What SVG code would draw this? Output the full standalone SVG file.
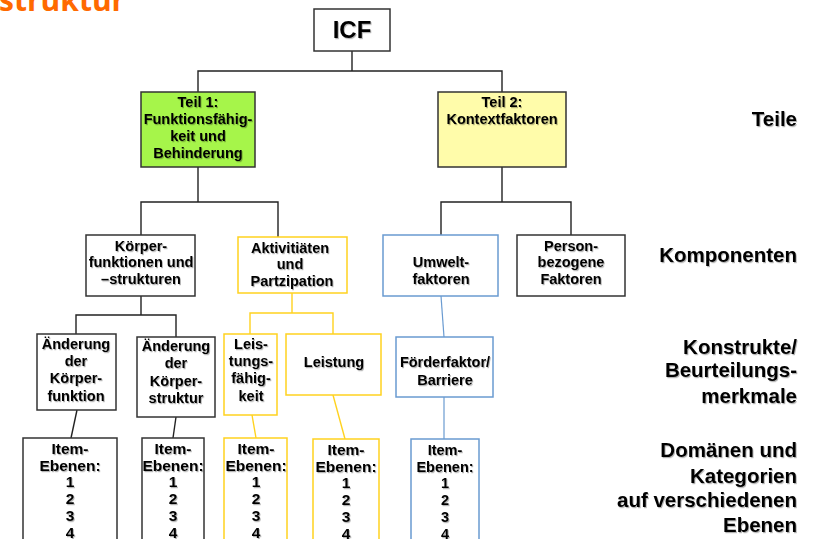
<svg xmlns="http://www.w3.org/2000/svg" width="816" height="539" viewBox="0 0 816 539">
<defs>
<filter id="sh" x="-10%" y="-10%" width="120%" height="130%">
<feDropShadow dx="1" dy="1.2" stdDeviation="0.7" flood-color="#000" flood-opacity="0.3"/>
</filter>
<style>
.t{font-family:"Liberation Sans",Arial,sans-serif;font-weight:bold;fill:#000;text-anchor:middle;filter:url(#sh)}
.b{font-size:14.5px}
.i{font-size:15.5px}
.r{font-size:20.5px;text-anchor:end}
.bk{fill:#fff;stroke:#333;stroke-width:1.5}
.ye{fill:#fff;stroke:#FFD21F;stroke-width:1.5}
.bl{fill:#fff;stroke:#6A9BD1;stroke-width:1.5}
.ck{fill:none;stroke:#222;stroke-width:1.4}
.cy{fill:none;stroke:#FFD21F;stroke-width:1.4}
.cb{fill:none;stroke:#6A9BD1;stroke-width:1.2}
</style>
</defs>
<rect width="816" height="539" fill="#fff"/>
<text x="-1" y="11" font-family="'Open Sans','Liberation Sans',sans-serif" font-weight="bold" font-size="30" fill="#FF6A00">struktur</text>

<g id="connectors">
<polyline class="ck" points="352,51 352,71"/>
<polyline class="ck" points="198,92 198,71 502,71 502,92"/>
<polyline class="ck" points="198,167 198,202"/>
<polyline class="ck" points="141,235 141,202 278,202 278,237"/>
<polyline class="ck" points="502,167 502,202"/>
<polyline class="ck" points="441,235 441,202 571,202 571,235"/>
<polyline class="ck" points="141,296 141,315"/>
<polyline class="ck" points="76,334 76,315 176,315 176,337"/>
<polyline class="cy" points="292,293 292,313"/>
<polyline class="cy" points="250,334 250,313 333,313 333,334"/>
<line class="cb" x1="441" y1="296" x2="444" y2="337"/>
<line class="cb" x1="444" y1="397" x2="444" y2="439"/>
<line class="ck" x1="77" y1="410" x2="71" y2="438"/>
<line class="ck" x1="176" y1="417" x2="173" y2="438"/>
<line class="cy" x1="252" y1="415" x2="256" y2="438"/>
<line class="cy" x1="333" y1="395" x2="345" y2="439"/>
</g>

<g id="icf">
<rect class="bk" x="314" y="9" width="76" height="42"/>
<text class="t" x="352" y="38" font-size="24">ICF</text>
</g>

<g id="teil1">
<rect x="141" y="92" width="114" height="75" fill="#A6F54A" stroke="#333" stroke-width="1.5"/>
<text class="t b" x="198" y="107">Teil 1:</text>
<text class="t b" x="198" y="124">Funktionsfähig-</text>
<text class="t b" x="198" y="141">keit und</text>
<text class="t b" x="198" y="158">Behinderung</text>
</g>

<g id="teil2">
<rect x="438" y="92" width="128" height="75" fill="#FFFCAA" stroke="#333" stroke-width="1.5"/>
<text class="t b" x="502" y="107">Teil 2:</text>
<text class="t b" x="502" y="124">Kontextfaktoren</text>
</g>

<g id="koerper">
<rect class="bk" x="86" y="235" width="109" height="61"/>
<text class="t b" x="141" y="251">Körper-</text>
<text class="t b" x="141" y="267">funktionen und</text>
<text class="t b" x="141" y="284">–strukturen</text>
</g>

<g id="aktivitaeten">
<rect class="ye" x="238" y="237" width="109" height="56"/>
<text class="t b" x="290" y="253">Aktivitiäten</text>
<text class="t b" x="290" y="269">und</text>
<text class="t b" x="292" y="286">Partzipation</text>
</g>

<g id="umwelt">
<rect class="bl" x="383" y="235" width="115" height="61"/>
<text class="t b" x="441" y="267">Umwelt-</text>
<text class="t b" x="441" y="284">faktoren</text>
</g>

<g id="person">
<rect class="bk" x="517" y="235" width="108" height="61"/>
<text class="t b" x="571" y="251">Person-</text>
<text class="t b" x="571" y="267">bezogene</text>
<text class="t b" x="571" y="284">Faktoren</text>
</g>

<g id="aenderung1">
<rect class="bk" x="37" y="334" width="79" height="76"/>
<text class="t b" x="76" y="349">Änderung</text>
<text class="t b" x="76" y="366">der</text>
<text class="t b" x="76" y="383">Körper-</text>
<text class="t b" x="76" y="401">funktion</text>
</g>

<g id="aenderung2">
<rect class="bk" x="137" y="337" width="78" height="80"/>
<text class="t b" x="176" y="351">Änderung</text>
<text class="t b" x="176" y="368">der</text>
<text class="t b" x="176" y="386">Körper-</text>
<text class="t b" x="176" y="403">struktur</text>
</g>

<g id="leistungsfaehigkeit">
<rect class="ye" x="224" y="334" width="53" height="81"/>
<text class="t b" x="251" y="349">Leis-</text>
<text class="t b" x="251" y="366">tungs-</text>
<text class="t b" x="251" y="383">fähig-</text>
<text class="t b" x="251" y="401">keit</text>
</g>

<g id="leistung">
<rect class="ye" x="286" y="334" width="95" height="61"/>
<text class="t b" x="334" y="367">Leistung</text>
</g>

<g id="foerderfaktor">
<rect class="bl" x="396" y="337" width="97" height="60"/>
<text class="t b" x="445" y="367">Förderfaktor/</text>
<text class="t b" x="445" y="385">Barriere</text>
</g>

<g id="item1">
<rect class="bk" x="23" y="438" width="94" height="110"/>
<text class="t i" x="70" y="454">Item-</text>
<text class="t i" x="70" y="471">Ebenen:</text>
<text class="t i" x="70" y="487">1</text>
<text class="t i" x="70" y="504">2</text>
<text class="t i" x="70" y="521">3</text>
<text class="t i" x="70" y="538">4</text>
</g>

<g id="item2">
<rect class="bk" x="142" y="438" width="62" height="110"/>
<text class="t i" x="173" y="454">Item-</text>
<text class="t i" x="173" y="471">Ebenen:</text>
<text class="t i" x="173" y="487">1</text>
<text class="t i" x="173" y="504">2</text>
<text class="t i" x="173" y="521">3</text>
<text class="t i" x="173" y="538">4</text>
</g>

<g id="item3">
<rect class="ye" x="224" y="438" width="63" height="110"/>
<text class="t i" x="256" y="454">Item-</text>
<text class="t i" x="256" y="471">Ebenen:</text>
<text class="t i" x="256" y="487">1</text>
<text class="t i" x="256" y="504">2</text>
<text class="t i" x="256" y="521">3</text>
<text class="t i" x="256" y="538">4</text>
</g>

<g id="item4">
<rect class="ye" x="313" y="439" width="66" height="110"/>
<text class="t i" x="346" y="455">Item-</text>
<text class="t i" x="346" y="472">Ebenen:</text>
<text class="t i" x="346" y="488">1</text>
<text class="t i" x="346" y="505">2</text>
<text class="t i" x="346" y="522">3</text>
<text class="t i" x="346" y="539">4</text>
</g>

<g id="item5">
<rect class="bl" x="411" y="439" width="68" height="110"/>
<text class="t b" x="445" y="455">Item-</text>
<text class="t b" x="445" y="472">Ebenen:</text>
<text class="t b" x="445" y="488">1</text>
<text class="t b" x="445" y="505">2</text>
<text class="t b" x="445" y="522">3</text>
<text class="t b" x="445" y="539">4</text>
</g>

<g id="labels">
<text class="t r" x="797" y="126">Teile</text>
<text class="t r" x="797" y="262">Komponenten</text>
<text class="t r" x="797" y="354">Konstrukte/</text>
<text class="t r" x="797" y="377">Beurteilungs-</text>
<text class="t r" x="797" y="403">merkmale</text>
<text class="t r" x="797" y="457">Domänen und</text>
<text class="t r" x="797" y="483">Kategorien</text>
<text class="t r" x="797" y="507">auf verschiedenen</text>
<text class="t r" x="797" y="532">Ebenen</text>
</g>
</svg>
